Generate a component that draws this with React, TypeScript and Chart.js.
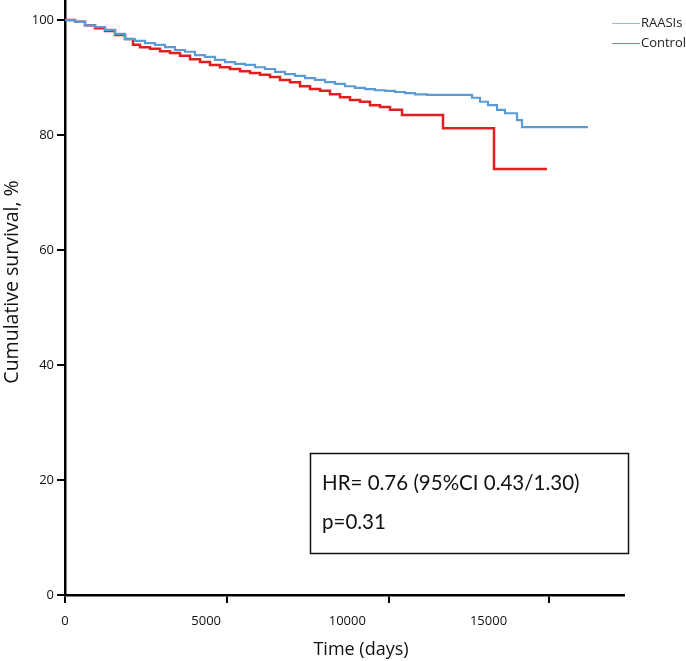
import { useEffect, useRef } from "react";
import { Chart, registerables } from "chart.js";

Chart.register(...registerables);

// ---- data ----
const seriesNames = ["RAASIs", "Control"];
const raasiDays = [0, 354, 708, 1063, 1417, 1771, 2125, 2480, 2834, 3188, 3542, 3896, 4251, 4605, 4959, 5313, 5668, 6022, 6376, 6730, 7084, 7439, 7793, 8147, 8501, 8856, 9210, 9564, 9918, 10272, 10627, 10981, 11335, 11689, 12043, 12398, 12823, 14417, 14700, 14983, 15302, 15585, 16010, 16187, 18525];
const raasiSurvival = [100, 99.7, 99.1, 98.8, 98.3, 97.6, 96.7, 96.4, 96.0, 95.7, 95.3, 94.8, 94.5, 93.9, 93.6, 93.1, 92.7, 92.4, 92.2, 91.8, 91.5, 91.0, 90.6, 90.3, 89.9, 89.6, 89.2, 88.9, 88.5, 88.2, 88.0, 87.8, 87.7, 87.5, 87.3, 87.1, 87.0, 86.5, 85.8, 85.2, 84.4, 83.8, 82.6, 81.4, 81.4];
const controlDays = [0, 354, 708, 1063, 1417, 1771, 2125, 2409, 2657, 3011, 3365, 3719, 4073, 4428, 4782, 5136, 5490, 5844, 6199, 6553, 6907, 7261, 7616, 7970, 8324, 8678, 9033, 9387, 9741, 10095, 10450, 10804, 11158, 11512, 11937, 13389, 15196, 17073];
const controlSurvival = [100, 99.7, 99.1, 98.6, 98.1, 97.4, 96.7, 95.7, 95.3, 95.0, 94.6, 94.3, 93.8, 93.2, 92.7, 92.2, 91.8, 91.5, 91.1, 90.8, 90.5, 90.1, 89.6, 89.2, 88.5, 88.0, 87.7, 87.1, 86.6, 86.1, 85.8, 85.2, 84.9, 84.4, 83.5, 81.2, 74.1, 74.1];
const xTickLabels = [0, 5000, 10000, 15000];
const xTickMarks = [0, 5740, 11480, 17145];
const yTicks = [0, 20, 40, 60, 80, 100];
const annotationLines = ["HR= 0.76 (95%CI 0.43/1.30)", "p=0.31"];
const xTitle = "Time (days)";
const yTitle = "Cumulative survival, %";

const FONT = "'Open Sans', 'Noto Sans', sans-serif";

const legendPlugin = {
  id: "kmLegend",
  afterDraw(chart: any) {
    const ctx = chart.ctx;
    const colors = ["#8fbde3", "#cc6b6b"];
    ctx.save();
    chart.data.datasets.forEach((ds: any, i: number) => {
      const y = 23 + i * 20;
      ctx.strokeStyle = colors[i];
      ctx.lineWidth = 1;
      ctx.beginPath();
      ctx.moveTo(612, y + 0.5);
      ctx.lineTo(640, y + 0.5);
      ctx.stroke();
      ctx.fillStyle = "#222";
      ctx.font = `13px ${FONT}`;
      ctx.textBaseline = "middle";
      ctx.textAlign = "left";
      ctx.fillText(ds.label, 641, y);
    });
    ctx.restore();
  },
};

const titlesPlugin = {
  id: "axisTitles",
  afterDraw(chart: any) {
    const ctx = chart.ctx;
    ctx.save();
    ctx.fillStyle = "#111";
    ctx.textAlign = "center";
    ctx.textBaseline = "middle";
    ctx.font = `18px ${FONT}`;
    ctx.fillText(xTitle, 361, 650);
    ctx.translate(12, 282);
    ctx.rotate(-Math.PI / 2);
    ctx.font = `19.5px ${FONT}`;
    ctx.fillText(yTitle, 0, 0);
    ctx.restore();
  },
};

const boxPlugin = {
  id: "hrBox",
  afterDraw(chart: any) {
    const ctx = chart.ctx;
    ctx.save();
    ctx.strokeStyle = "#111";
    ctx.lineWidth = 1.5;
    ctx.strokeRect(310.5, 453.5, 318, 100);
    ctx.fillStyle = "#111";
    ctx.font = "20.5px Lato, 'Open Sans', sans-serif";
    ctx.textBaseline = "middle";
    ctx.textAlign = "left";
    ctx.fillText(annotationLines[0], 322, 483);
    ctx.fillText(annotationLines[1], 322, 522);
    ctx.restore();
  },
};

export default function App() {
  const ref = useRef<HTMLCanvasElement | null>(null);

  useEffect(() => {
    if (!ref.current) return;
    const chart = new Chart(ref.current, {
      type: "line",
      data: {
        datasets: [
          {
            label: seriesNames[0],
            data: raasiDays.map((d, i) => ({ x: d, y: raasiSurvival[i] })),
            borderColor: "#5b9bd5",
            borderWidth: 2.2,
            stepped: "before",
            pointRadius: 0,
            fill: false,
            xAxisID: "x",
            yAxisID: "y",
          },
          {
            label: seriesNames[1],
            data: controlDays.map((d, i) => ({ x: d, y: controlSurvival[i] })),
            borderColor: "#e02020",
            borderWidth: 2.5,
            stepped: "before",
            pointRadius: 0,
            fill: false,
            xAxisID: "x",
            yAxisID: "y",
          },
        ],
      },
      options: {
        animation: false,
        responsive: false,
        devicePixelRatio: 1,
        layout: { padding: { left: 0, right: 62, top: 0, bottom: 0 } },
        plugins: { legend: { display: false }, tooltip: { enabled: false } },
        scales: {
          xm: {
            type: "linear",
            position: "bottom",
            weight: 0,
            min: 0,
            max: 19800,
            afterBuildTicks: (s: any) => {
              s.ticks = xTickMarks.map((v) => ({ value: v }));
            },
            afterFit: (s: any) => {
              s.height = 8;
              s.paddingLeft = 0;
              s.paddingRight = 0;
            },
            ticks: { display: false },
            grid: { display: true, drawOnChartArea: false, drawTicks: true, tickLength: 8, lineWidth: 2, color: "#000" },
            border: { display: true, color: "#000", width: 2.5 },
          },
          x: {
            type: "linear",
            position: "bottom",
            weight: 1,
            min: 0,
            max: 19800,
            afterBuildTicks: (s: any) => {
              s.ticks = xTickLabels.map((v) => ({ value: v }));
            },
            afterFit: (s: any) => {
              s.height = 58;
              s.paddingLeft = 0;
              s.paddingRight = 0;
            },
            ticks: {
              autoSkip: false,
              maxRotation: 0,
              padding: 2,
              color: "#111",
              font: { family: FONT, size: 13 },
              callback: (v: any) => String(v),
            },
            grid: { display: false },
            border: { display: false },
          },
          y: {
            type: "linear",
            position: "left",
            min: 0,
            max: 103.5,
            afterBuildTicks: (s: any) => {
              s.ticks = yTicks.map((v) => ({ value: v }));
            },
            afterFit: (s: any) => {
              s.width = 65;
              s.paddingTop = 0;
              s.paddingBottom = 0;
            },
            ticks: {
              padding: 3,
              color: "#111",
              font: { family: FONT, size: 13 },
              callback: (v: any) => String(v),
            },
            grid: { display: true, drawOnChartArea: false, drawTicks: true, tickLength: 8, lineWidth: 2, color: "#000" },
            border: { display: true, color: "#000", width: 2.5 },
          },
        },
      },
      plugins: [legendPlugin, titlesPlugin, boxPlugin],
    } as any);
    return () => chart.destroy();
  }, []);

  return (
    <div style={{ position: "fixed", left: 0, top: 0, width: 686, height: 661, background: "#fff" }}>
      <canvas ref={ref} width={686} height={661} style={{ display: "block" }} />
    </div>
  );
}
